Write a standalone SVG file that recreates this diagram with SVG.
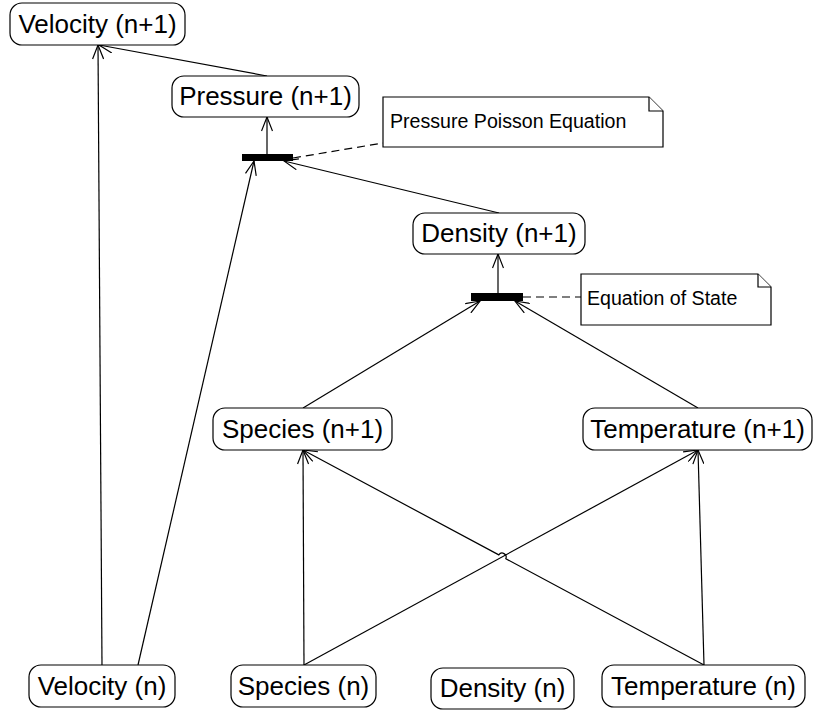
<svg xmlns="http://www.w3.org/2000/svg" width="814" height="710" viewBox="0 0 814 710">
  <style>
    .node rect { fill: #fff; stroke: #000; stroke-width: 1.2; }
    .node text { font-family: "Liberation Sans", Arial, sans-serif; font-size: 26px; text-anchor: middle; fill: #000; }
    .edge { fill: none; stroke: #000; stroke-width: 1.2; }
    .dash { fill: none; stroke: #000; stroke-width: 1.2; stroke-dasharray: 8 5; }
    .bar { fill: #000; }
    .note path { fill: #fff; stroke: #000; stroke-width: 1.2; stroke-linejoin: miter; }
    .note text { font-family: "Liberation Sans", Arial, sans-serif; font-size: 19.6px; fill: #000; }
  </style>
  <defs>
    <marker id="open" markerUnits="userSpaceOnUse" viewBox="0 0 16 12" refX="15" refY="6" markerWidth="16" markerHeight="12" orient="auto">
      <path d="M1,0.5 L15,6 L1,11.5" fill="none" stroke="#000" stroke-width="1.2"/>
    </marker>
  </defs>

  <!-- connectors -->
  <g id="connectors">
    <path class="edge" marker-end="url(#open)" d="M102,665 L98,45"/>
    <path class="edge" marker-end="url(#open)" d="M267,76 L99,45"/>
    <path class="edge" marker-end="url(#open)" d="M267,154 L267,117"/>
    <path class="edge" marker-end="url(#open)" d="M138,665 L254,161"/>
    <path class="edge" marker-end="url(#open)" d="M499,213 L284,161"/>
    <path class="dash" d="M293,158 L383,143"/>
    <path class="edge" marker-end="url(#open)" d="M498,293 L498,254"/>
    <path class="edge" marker-end="url(#open)" d="M303,408 L480,301"/>
    <path class="edge" marker-end="url(#open)" d="M698,408 L515,301"/>
    <path class="dash" d="M523,297 L581,297"/>
    <path class="edge" marker-end="url(#open)" d="M304,665 L303,450"/>
    <path class="edge" marker-end="url(#open)" d="M304,665 L698,450"/>
    <path class="edge" marker-end="url(#open)" d="M704,665 L698,450"/>
    <path class="edge" marker-end="url(#open)" d="M704,665 L505.8,558.7 A4,4 0 0 0 498.8,554.9 L303,450"/>
  </g>

  <!-- synchronisation bars -->
  <rect id="bar-pressure" class="bar" x="242" y="154" width="51" height="7"/>
  <rect id="bar-density" class="bar" x="471" y="293" width="52" height="8"/>

  <!-- notes -->
  <g id="note-ppe" class="note">
    <path d="M383,97 H649 L663,111 V147 H383 Z"/>
    <path d="M649,97 V111 H663" fill="none"/>
    <text x="390" y="128">Pressure Poisson Equation</text>
  </g>
  <g id="note-eos" class="note">
    <path d="M581,274 H758 L771,287 V325 H581 Z"/>
    <path d="M758,274 V287 H771" fill="none"/>
    <text x="587" y="305">Equation of State</text>
  </g>

  <!-- nodes -->
  <g id="velocity-n1" class="node">
    <rect x="10" y="3" width="175" height="42" rx="12"/>
    <text x="97.5" y="33">Velocity (n+1)</text>
  </g>
  <g id="pressure-n1" class="node">
    <rect x="172" y="76" width="187" height="41" rx="12"/>
    <text x="265.5" y="105">Pressure (n+1)</text>
  </g>
  <g id="density-n1" class="node">
    <rect x="413" y="213" width="172" height="41" rx="12"/>
    <text x="499" y="242">Density (n+1)</text>
  </g>
  <g id="species-n1" class="node">
    <rect x="213" y="408" width="179" height="42" rx="12"/>
    <text x="302.5" y="438">Species (n+1)</text>
  </g>
  <g id="temperature-n1" class="node">
    <rect x="583" y="408" width="229" height="42" rx="12"/>
    <text x="697.5" y="438">Temperature (n+1)</text>
  </g>
  <g id="velocity-n" class="node">
    <rect x="29" y="665" width="146" height="42" rx="12"/>
    <text x="102" y="695">Velocity (n)</text>
  </g>
  <g id="species-n" class="node">
    <rect x="231" y="665" width="145" height="42" rx="12"/>
    <text x="303.5" y="695">Species (n)</text>
  </g>
  <g id="density-n" class="node">
    <rect x="431" y="668" width="143" height="41" rx="12"/>
    <text x="502.5" y="697">Density (n)</text>
  </g>
  <g id="temperature-n" class="node">
    <rect x="602" y="665" width="203" height="42" rx="12"/>
    <text x="703.5" y="695">Temperature (n)</text>
  </g>
</svg>
